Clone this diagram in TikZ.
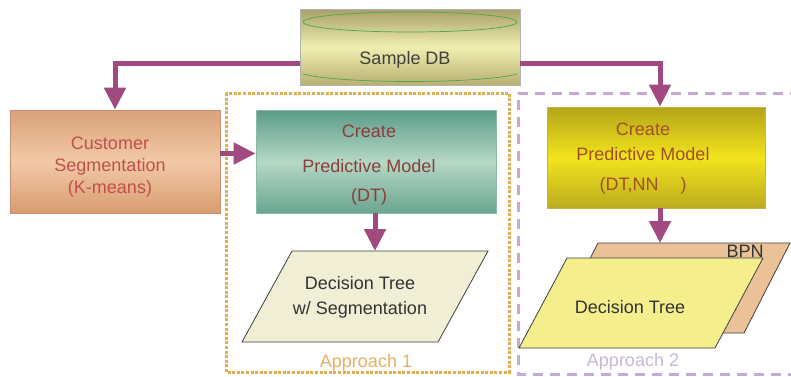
\documentclass[tikz,border=0pt]{standalone}
\usepackage{fontspec}
\setmainfont{Liberation Sans}
\usetikzlibrary{arrows.meta}
\definecolor{arrowc}{HTML}{A04A80}
\definecolor{csborder}{HTML}{C89070}
\definecolor{cstop}{HTML}{D9A27A}
\definecolor{csmid}{HTML}{F2C9A6}
\definecolor{csbot}{HTML}{D89C70}
\definecolor{dttop}{HTML}{5A9C88}
\definecolor{dtmid}{HTML}{B5D8C5}
\definecolor{dtbot}{HTML}{6AA590}
\definecolor{nntop}{HTML}{B4A41A}
\definecolor{nnmid}{HTML}{F2E41C}
\definecolor{nnbot}{HTML}{BCAC20}
\definecolor{dbtop}{HTML}{A8A068}
\definecolor{dbmid}{HTML}{F0EEB0}
\definecolor{dbbot}{HTML}{B8B070}
\definecolor{cstext}{HTML}{C0504D}
\definecolor{mtext}{HTML}{8C3C3C}
\definecolor{nntext}{HTML}{A05028}
\definecolor{orangedot}{HTML}{E0B050}
\definecolor{purpledash}{HTML}{C8A8D8}
\definecolor{ap1}{HTML}{E8B060}
\definecolor{ap2}{HTML}{C8B8D8}
\begin{document}
\begin{tikzpicture}[x=1pt,y=-1pt,
  every node/.style={font=\fontsize{18}{22}\selectfont, inner sep=0pt},
  box/.style={draw, rectangle, line width=0.8pt},
  arr/.style={draw=arrowc, line width=5pt, -{Triangle[width=21pt,length=22pt]}},
  txt/.style={align=center},
  para/.style={draw=black!75, line width=0.8pt}
]
\useasboundingbox (0,0) rectangle (791,376);
\fill[white] (0,0) rectangle (791,376);

% approach frames
\draw[orangedot, line width=3pt, dash pattern=on 3pt off 1.6pt] (226,93) rectangle (509,372);
\draw[purpledash, line width=3pt, dash pattern=on 10pt off 7pt] (800,93) -- (518,93) -- (518,374) -- (800,374);

% Sample DB
\node[box, draw=black!30, minimum width=220pt, minimum height=76pt,
  top color=dbtop, bottom color=dbbot, middle color=dbmid] (db) at (410,47) {};
\draw[green!50!black!70, line width=0.7pt] (410,22) ellipse [x radius=107, y radius=10];
\draw[green!50!black!70, line width=0.7pt] (303,74) .. controls (340,84) and (480,84) .. (517,74);
\node[txt, text=black!75] (dbtext) at (405,60) {Sample DB};

% Customer segmentation
\node[box, draw=csborder, minimum width=210pt, minimum height=103pt,
  top color=cstop, bottom color=csbot, middle color=csmid] (cs) at (115,161.5) {};
\node[txt, text=cstext] (cstext) at (110,167) {Customer\\Segmentation\\(K-means)};

% Create predictive model DT
\node[box, draw=dttop!70, minimum width=240pt, minimum height=103pt,
  top color=dttop, bottom color=dtbot, middle color=dtmid] (dt) at (376,161.5) {};
\node[txt, text=mtext] (dttext) at (369,165) {Create\\[13pt]Predictive Model\\[7pt](DT)};

% Create predictive model DT,NN
\node[box, draw=nntop!80, minimum width=218pt, minimum height=101pt,
  top color=nntop, bottom color=nnbot, middle color=nnmid] (nn) at (656,157.5) {};
\node[txt, text=nntext] (nntext) at (643,159) {Create\\[3pt]Predictive Model\\[8pt](DT,NN\hspace{22pt})};

% Decision tree with segmentation
\draw[para, fill=yellow!12!white!93!black] (242,342) -- (292,251) -- (488,251) -- (438,342) -- cycle;
\coordinate (p1top) at (375,251);
\node[txt, text=black!80] (p1) at (360,297) {Decision Tree\\[3pt]w/ Segmentation};
\node[text=ap1] (ap1) at (366,363) {Approach 1};

% BPN and Decision Tree
\draw[para, fill=orange!35!white!92!black] (552,333) -- (598,243) -- (790,243) -- (744,333) -- cycle;
\node[text=black!80] (bpn) at (745,251) {BPN};
\draw[para, fill=yellow!45!white!95!black] (519,348) -- (567,258) -- (763,258) -- (715,348) -- cycle;
\coordinate (p2top) at (660,243);
\node[text=black!80] (p2) at (630,307) {Decision Tree};
\node[text=ap2] (ap2) at (633,362) {Approach 2};

% connectors
\draw[arr] ([yshift=-16pt]db.west) -| (cs.north);
\draw[arr] ([yshift=-16pt]db.east) -| ([xshift=4pt]nn.north);
\draw[arr] ([yshift=8pt]cs.east) -- ([yshift=8pt]dt.west);
\draw[arr] (dt.south -| p1top) -- (p1top);
\draw[arr] (nn.south -| p2top) -- (p2top);
\end{tikzpicture}
\end{document}
